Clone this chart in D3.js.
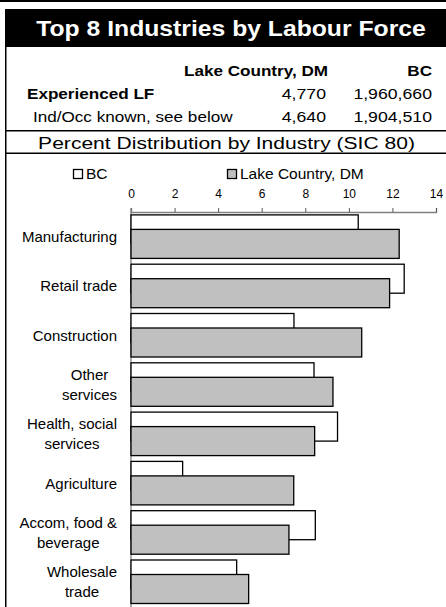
<!DOCTYPE html>
<html><head><meta charset="utf-8">
<script src="https://cdn.jsdelivr.net/npm/d3@7"></script>
<style>
html,body{margin:0;padding:0;background:#fff;}
svg{display:block;font-family:"Liberation Sans",Arial,sans-serif;}
</style></head>
<body>
<script>
// ---- data ----
const title = "Top 8 Industries by Labour Force";
const subtitle = "Percent Distribution by Industry (SIC 80)";
const headerCols = ["Lake Country, DM", "BC"];
const rowLabels = ["Experienced LF", "Ind/Occ known, see below"];
const lakeCounts = ["4,770", "4,640"];
const bcCounts = ["1,960,660", "1,904,510"];
const categories = ["Manufacturing", "Retail trade", "Construction", "Other services",
  "Health, social services", "Agriculture", "Accom, food & beverage", "Wholesale trade"];
const categoryLines = [["Manufacturing"], ["Retail trade"], ["Construction"], ["Other", "services"],
  ["Health, social", "services"], ["Agriculture"], ["Accom, food &", "beverage"], ["Wholesale", "trade"]];
const bcValues = [10.43, 12.54, 7.48, 8.40, 9.48, 2.37, 8.46, 4.85];
const lakeValues = [12.31, 11.87, 10.59, 9.27, 8.43, 7.47, 7.25, 5.40];
const seriesNames = ["BC", "Lake Country, DM"];
const xTicks = [0, 2, 4, 6, 8, 10, 12, 14];

// ---- layout ----
const W = 446, H = 607;
const svg = d3.select("body").append("svg").attr("width", W).attr("height", H);

// frame
svg.append("rect").attr("x", 0).attr("y", 0).attr("width", W).attr("height", 2).attr("fill", "#000");
svg.append("rect").attr("x", 5).attr("y", 9).attr("width", W - 5).attr("height", 38).attr("fill", "#000");
svg.append("line").attr("x1", 5.75).attr("x2", 5.75).attr("y1", 47).attr("y2", H).attr("stroke", "#000").attr("stroke-width", 1.5);
[130.75, 153.25].forEach(y => svg.append("line").attr("x1", 5).attr("x2", W).attr("y1", y).attr("y2", y)
  .attr("stroke", "#000").attr("stroke-width", 1.5));

function stretched(g, x, y, txt, size, weight, anchor, sx, fill) {
  return g.append("text")
    .attr("transform", `translate(${x},${y}) scale(${sx},1)`)
    .attr("text-anchor", anchor)
    .style("font-size", size + "px").style("font-weight", weight)
    .attr("fill", fill || "#000").text(txt);
}

stretched(svg, 231, 36, title, 21.5, "bold", "middle", 1.15, "#fff");
stretched(svg, 328, 76, headerCols[0], 14.5, "bold", "end", 1.18);
stretched(svg, 432, 76, headerCols[1], 14.5, "bold", "end", 1.18);
stretched(svg, 27, 99, rowLabels[0], 14.5, "bold", "start", 1.18);
stretched(svg, 33, 122, rowLabels[1], 14.5, "normal", "start", 1.18);
lakeCounts.forEach((v, i) => stretched(svg, 326, 99 + 23 * i, v, 14.5, "normal", "end", 1.22));
bcCounts.forEach((v, i) => stretched(svg, 432, 99 + 23 * i, v, 14.5, "normal", "end", 1.22));
stretched(svg, 226.5, 149, subtitle, 17, "normal", "middle", 1.24);

// legend
const legendX = [73, 227];
seriesNames.forEach((s, i) => {
  svg.append("rect").attr("x", legendX[i] + 0.5).attr("y", 169.5).attr("width", 9).attr("height", 9)
    .attr("fill", i === 0 ? "#fff" : "#c0c0c0").attr("stroke", "#000").attr("stroke-width", 1.3);
  svg.append("text").attr("x", legendX[i] + 13).attr("y", 179).style("font-size", "15.5px").text(s);
});

// scales
const x = d3.scaleLinear().domain([0, 14]).range([131, 436]);
const y = d3.scaleBand().domain(categories).range([212, 606.4]).paddingInner(0.1176).paddingOuter(0.0588);
const bw = y.bandwidth();

// axis (top)
const axis = d3.axisTop(x).tickValues(xTicks).tickSize(4).tickPadding(10).tickFormat(d3.format("d"));
const ax = svg.append("g").attr("transform", "translate(0,212)").call(axis);
ax.select(".domain").attr("stroke", "#808080").attr("stroke-width", 1.3);
ax.selectAll(".tick line").attr("stroke", "#555").attr("stroke-width", 1);
ax.selectAll(".tick text").style("font-size", "12px").attr("fill", "#000")
  .style("font-family", '"Liberation Sans",Arial,sans-serif');

// vertical axis line
svg.append("line").attr("x1", x(0)).attr("x2", x(0)).attr("y1", 208).attr("y2", H)
  .attr("stroke", "#808080").attr("stroke-width", 1.3);

// bars
svg.append("g").selectAll("rect").data(categories).join("rect")
  .attr("x", x(0)).attr("y", c => y(c))
  .attr("width", (c, i) => x(bcValues[i]) - x(0)).attr("height", bw * 2 / 3)
  .attr("fill", "#fff").attr("stroke", "#000").attr("stroke-width", 1.3);
svg.append("g").selectAll("rect").data(categories).join("rect")
  .attr("x", x(0)).attr("y", c => y(c) + bw / 3)
  .attr("width", (c, i) => x(lakeValues[i]) - x(0)).attr("height", bw * 2 / 3)
  .attr("fill", "#c0c0c0").attr("stroke", "#000").attr("stroke-width", 1.3);

// category labels
const labelRight = 117, lineH = 20;
categories.forEach((c, i) => {
  const lines = categoryLines[i];
  const cy = y(c) + bw / 2;
  const g = svg.append("g");
  const texts = lines.map((l, j) => g.append("text")
    .attr("y", cy + 5.5 + (j - (lines.length - 1) / 2) * lineH)
    .attr("text-anchor", "middle").style("font-size", "15px").text(l));
  const maxW = d3.max(texts, t => t.node().getComputedTextLength());
  texts.forEach(t => t.attr("x", labelRight - maxW / 2));
});
</script>
</body></html>
